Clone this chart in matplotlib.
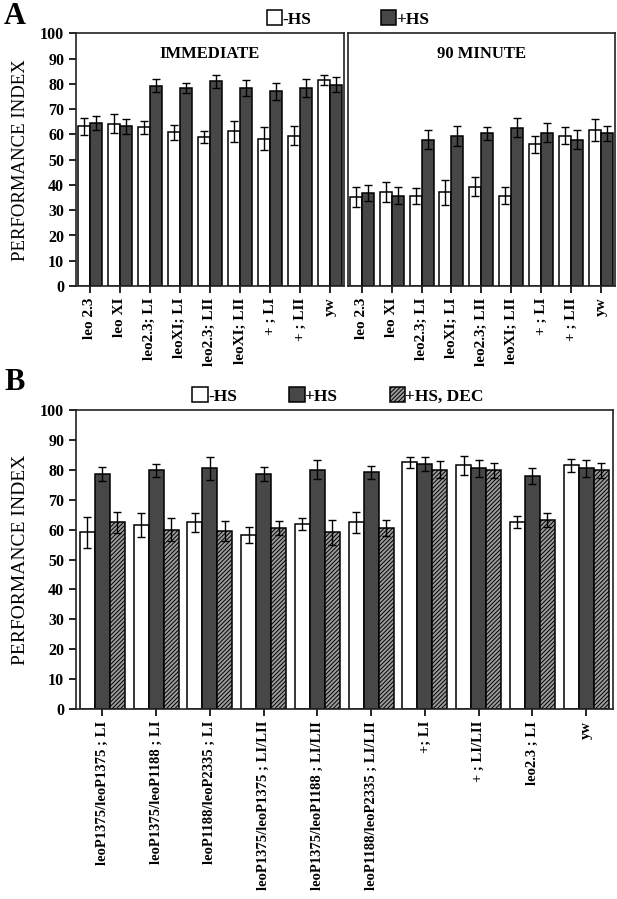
import matplotlib.pyplot as plt
import matplotlib as mpl
import numpy as np

plt.rcParams['font.family'] = ['Liberation Serif', 'DejaVu Serif']
plt.rcParams['hatch.linewidth'] = 0.7
plt.rcParams['hatch.color'] = '#555555'

# panel A data
genotypes_a = ['leo 2.3', 'leo XI', 'leo2.3; LI', 'leoXI; LI', 'leo2.3; LII',
               'leoXI; LII', '+ ; LI', '+ ; LII', 'yw']
imm_minus = [63.2, 64.3, 62.8, 60.8, 59.1, 61.2, 58.4, 59.5, 81.7]
imm_minus_err = [3.3, 3.7, 2.7, 3.0, 2.3, 4.0, 4.4, 3.7, 2.0]
imm_plus = [64.7, 63.2, 79.4, 78.4, 81.0, 78.4, 77.1, 78.4, 79.8]
imm_plus_err = [2.8, 3.0, 2.5, 2.0, 2.6, 3.0, 3.3, 3.7, 3.0]
min90_minus = [35.2, 37.2, 35.7, 37.1, 39.4, 35.7, 56.1, 59.5, 61.8]
min90_minus_err = [3.9, 4.0, 3.2, 5.0, 3.7, 3.4, 3.3, 3.4, 4.3]
min90_plus = [36.8, 35.7, 57.9, 59.5, 60.4, 62.7, 60.7, 57.9, 60.4]
min90_plus_err = [3.3, 3.4, 3.7, 4.0, 2.5, 3.7, 3.8, 3.7, 3.1]

# panel B data
genotypes_b = ['leoP1375/leoP1375 ; LI', 'leoP1375/leoP1188 ; LI',
               'leoP1188/leoP2335 ; LI', 'leoP1375/leoP1375 ; LI/LII',
               'leoP1375/leoP1188 ; LI/LII', 'leoP1188/leoP2335 ; LI/LII',
               '+; LI', '+ ; LI/LII', 'leo2.3 ; LI', 'yw']
b_minus = [59.1, 61.5, 62.4, 58.2, 61.9, 62.5, 82.5, 81.5, 62.5, 81.5]
b_minus_err = [5.2, 4.1, 3.2, 2.7, 1.9, 3.5, 1.8, 3.2, 2.1, 2.2]
b_plus = [78.7, 79.8, 80.5, 78.7, 80.1, 79.2, 82.0, 80.5, 77.9, 80.5]
b_plus_err = [2.3, 2.2, 3.8, 2.3, 3.2, 2.2, 2.3, 2.8, 2.6, 2.8]
b_dec = [62.4, 60.0, 59.6, 60.5, 59.1, 60.5, 80.1, 79.8, 63.3, 79.8]
b_dec_err = [3.6, 3.8, 3.3, 2.4, 4.2, 2.8, 2.9, 2.6, 2.3, 2.6]

DARK = '#474747'
DEC = '#9c9c9c'
W = 617 / 100
H = 899 / 100


def style_axis(ax, ylabels=True):
    ax.set_ylim(0, 100)
    ax.set_yticks(np.arange(0, 101, 10))
    ax.tick_params(axis='both', direction='out', length=5, width=1.2)
    for s in ax.spines.values():
        s.set_linewidth(1.2)
        s.set_color('#222222')
    if ylabels:
        for lab in ax.get_yticklabels():
            lab.set_fontweight('bold')
            lab.set_fontsize(11.5)
    else:
        ax.tick_params(axis='y', left=False, labelleft=False)


def bars(ax, x, vals, errs, width, color, hatch=None):
    ax.bar(x, vals, width, color=color, edgecolor='black', linewidth=1.1,
           hatch=hatch)
    ax.errorbar(x, vals, yerr=errs, fmt='none', ecolor='black',
                elinewidth=1.0, capsize=3.2, capthick=1.0)


fig = plt.figure(figsize=(W, H), dpi=100)

# ----- panel A -----
axl = fig.add_axes([76 / 617, 1 - 286 / 899, 268 / 617, 252.5 / 899])
axr = fig.add_axes([348 / 617, 1 - 286 / 899, 267 / 617, 252.5 / 899])
xa = np.arange(len(genotypes_a))
bw = 0.4
for ax, mv, me, pv, pe, title in [
        (axl, imm_minus, imm_minus_err, imm_plus, imm_plus_err, 'IMMEDIATE'),
        (axr, min90_minus, min90_minus_err, min90_plus, min90_plus_err, '90 MINUTE')]:
    bars(ax, xa - bw / 2, mv, me, bw, 'white')
    bars(ax, xa + bw / 2, pv, pe, bw, DARK)
    ax.set_xlim(-0.46, 8.47)
    ax.set_xticks(xa)
    ax.set_xticklabels(genotypes_a, rotation=90, fontweight='bold', fontsize=11)
    ax.text(0.5, 0.95, title, transform=ax.transAxes, ha='center', va='top',
            fontweight='bold', fontsize=12)
    style_axis(ax, ylabels=(ax is axl))

axl.set_ylabel('PERFORMANCE INDEX', fontsize=13.5, labelpad=8)

handles_a = [mpl.patches.Patch(facecolor='white', edgecolor='black', linewidth=1.1),
             mpl.patches.Patch(facecolor=DARK, edgecolor='black', linewidth=1.1)]
fig.legend(handles_a, ['-HS', '+HS'], loc='center', bbox_to_anchor=(348 / 617, 1 - 19 / 899),
           ncol=2, frameon=False, handlelength=0.9, handleheight=0.9,
           handletextpad=0.0, columnspacing=4.0,
           prop={'weight': 'bold', 'size': 12.5, 'family': 'Liberation Serif'})

fig.text(4 / 617, 1 - 16 / 899, 'A', fontsize=22, fontweight='bold', va='center', ha='left')

# ----- panel B -----
axb = fig.add_axes([76 / 617, 1 - 709 / 899, 537 / 617, 299 / 899])
xb = np.arange(len(genotypes_b))
bw = 0.28
bars(axb, xb - bw, b_minus, b_minus_err, bw, 'white')
bars(axb, xb, b_plus, b_plus_err, bw, DARK)
bars(axb, xb + bw, b_dec, b_dec_err, bw, DEC, hatch='////////')
axb.set_xlim(-0.49, 9.5)
axb.set_xticks(xb)
axb.set_xticklabels(genotypes_b, rotation=90, fontweight='bold', fontsize=10.5)
style_axis(axb)
axb.set_ylabel('PERFORMANCE INDEX', fontsize=14, labelpad=8)

handles_b = [mpl.patches.Patch(facecolor='white', edgecolor='black', linewidth=1.1),
             mpl.patches.Patch(facecolor=DARK, edgecolor='black', linewidth=1.1),
             mpl.patches.Patch(facecolor=DEC, edgecolor='black', linewidth=1.1, hatch='////////')]
fig.legend(handles_b, ['-HS', '+HS', '+HS, DEC'], loc='center',
           bbox_to_anchor=(338 / 617, 1 - 396 / 899),
           ncol=3, frameon=False, handlelength=0.9, handleheight=0.9,
           handletextpad=0.0, columnspacing=3.0,
           prop={'weight': 'bold', 'size': 12.5, 'family': 'Liberation Serif'})

fig.text(4 / 617, 1 - 382 / 899, 'B', fontsize=22, fontweight='bold', va='center', ha='left')

fig.savefig('out.png', dpi=100)
